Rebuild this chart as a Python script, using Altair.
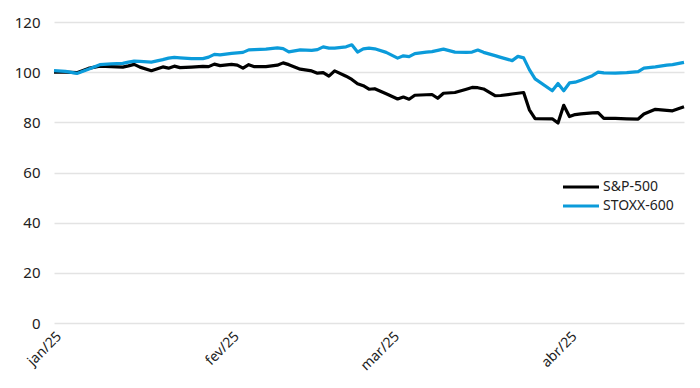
import altair as alt
import pandas as pd

dates = [
    "2025-01-01", "2025-01-03", "2025-01-05", "2025-01-07", "2025-01-09", "2025-01-11",
    "2025-01-13", "2025-01-14", "2025-01-15", "2025-01-16", "2025-01-18", "2025-01-20",
    "2025-01-21", "2025-01-22", "2025-01-23", "2025-01-25", "2025-01-27", "2025-01-28",
    "2025-01-29", "2025-01-30", "2025-02-01", "2025-02-02", "2025-02-03", "2025-02-04",
    "2025-02-05", "2025-02-07", "2025-02-09", "2025-02-10", "2025-02-11", "2025-02-13",
    "2025-02-15", "2025-02-16", "2025-02-17", "2025-02-18", "2025-02-19", "2025-02-21",
    "2025-02-22", "2025-02-23", "2025-02-24", "2025-02-25", "2025-02-26", "2025-02-28",
    "2025-03-02", "2025-03-03", "2025-03-04", "2025-03-05", "2025-03-07", "2025-03-08",
    "2025-03-09", "2025-03-10", "2025-03-12", "2025-03-14", "2025-03-15", "2025-03-16",
    "2025-03-17", "2025-03-19", "2025-03-20", "2025-03-22", "2025-03-23", "2025-03-24",
    "2025-03-25", "2025-03-26", "2025-03-29", "2025-03-30", "2025-03-31", "2025-04-01",
    "2025-04-02", "2025-04-03", "2025-04-05", "2025-04-06", "2025-04-07", "2025-04-09",
    "2025-04-11", "2025-04-13", "2025-04-14", "2025-04-16", "2025-04-18", "2025-04-19",
    "2025-04-21",
]

sp500 = [
    100.0, 100.0, 99.8, 101.5, 102.4, 102.2,
    102.0, 102.5, 103.1, 102.0, 100.6, 102.1,
    101.6, 102.4, 101.8, 102.0, 102.3, 102.2,
    103.2, 102.6, 103.1, 102.8, 101.6, 103.0,
    102.2, 102.2, 102.8, 103.7, 103.0, 101.2,
    100.5, 99.6, 99.8, 98.4, 100.5, 98.4,
    97.1, 95.4, 94.6, 93.2, 93.4, 91.4,
    89.3, 90.1, 89.2, 90.8, 91.0, 91.1,
    89.6, 91.6, 91.9, 93.2, 93.9, 93.8,
    93.3, 90.6, 90.7, 91.3, 91.6, 91.9,
    85.0, 81.5, 81.4, 79.7, 86.8, 82.3,
    83.1, 83.4, 83.8, 83.9, 81.6, 81.6,
    81.4, 81.3, 83.3, 85.2, 84.8, 84.6,
    86.2,
]

stoxx600 = [
    100.6, 100.3, 99.5, 101.2, 103.0, 103.3,
    103.5, 104.0, 104.4, 104.3, 104.0, 105.0,
    105.6, 105.9, 105.7, 105.4, 105.4, 106.0,
    107.1, 106.9, 107.5, 107.7, 107.9, 108.9,
    109.0, 109.2, 109.7, 109.4, 108.1, 108.9,
    108.7, 109.0, 110.1, 109.6, 109.6, 110.1,
    110.9, 108.0, 109.3, 109.6, 109.3, 107.9,
    105.6, 106.5, 106.2, 107.4, 108.0, 108.2,
    108.7, 109.2, 108.0, 107.9, 108.0, 108.8,
    107.9, 106.6, 105.9, 104.6, 106.3, 105.7,
    101.0, 97.3, 92.6, 95.5, 92.6, 95.7,
    96.0, 96.8, 98.6, 100.0, 99.7, 99.6,
    99.8, 100.2, 101.6, 102.1, 102.8, 103.0,
    103.9,
]

series_names = ["S&P-500", "STOXX-600"]
series_colors = ["#000000", "#0B9BDA"]
month_labels = ["jan/25", "fev/25", "mar/25", "abr/25"]
y_ticks = [0, 20, 40, 60, 80, 100, 120]

df = pd.concat([
    pd.DataFrame({"date": dates, "value": sp500, "serie": series_names[0]}),
    pd.DataFrame({"date": dates, "value": stoxx600, "serie": series_names[1]}),
])

label_array = "[" + ",".join("'" + m + "'" for m in month_labels) + "]"
tick_values = [alt.DateTime(year=2025, month=m, date=1, utc=True) for m in range(1, 5)]

FONT = "Noto Sans"

chart = alt.Chart(df).mark_line(strokeWidth=3.2, strokeJoin="round").encode(
    x=alt.X(
        "date:T",
        scale=alt.Scale(type="utc", domain=[alt.DateTime(year=2025, month=1, date=1, utc=True),
                                           alt.DateTime(year=2025, month=4, date=21, utc=True)]),
        axis=alt.Axis(
            title=None, values=tick_values, labelExpr=label_array + "[utcmonth(datum.value)]",
            labelAngle=-45, labelAlign="right", labelBaseline="top", labelPadding=6,
            grid=False, ticks=False, domain=False, labelFontSize=14, labelColor="#222222",
            labelFont=FONT,
        ),
    ),
    y=alt.Y(
        "value:Q",
        scale=alt.Scale(domain=[0, 120], nice=False),
        axis=alt.Axis(
            title=None, values=y_ticks, grid=True, gridColor="#e3e3e3", gridWidth=1.6,
            ticks=False, domain=False, labelFontSize=15, labelColor="#222222",
            labelPadding=14, labelFont=FONT,
        ),
    ),
    color=alt.Color(
        "serie:N",
        scale=alt.Scale(domain=series_names, range=series_colors),
        legend=alt.Legend(
            title=None, orient="none", legendX=515, legendY=153,
            symbolType="M-1.8,0L1.8,0", symbolSize=400, symbolStrokeWidth=3.2,
            labelFontSize=14, labelFont=FONT, labelColor="#222222",
            rowPadding=0, labelOffset=10,
        ),
    ),
    order=alt.Order("serie:N", sort="descending"),
).properties(
    width=630, height=301, autosize=alt.AutoSizeParams(type="none"),
    padding={"left": 46, "top": 14, "right": 8, "bottom": 50},
).configure_view(stroke=None)

chart.save("out.html", embed_options={"renderer": "svg", "actions": False})
